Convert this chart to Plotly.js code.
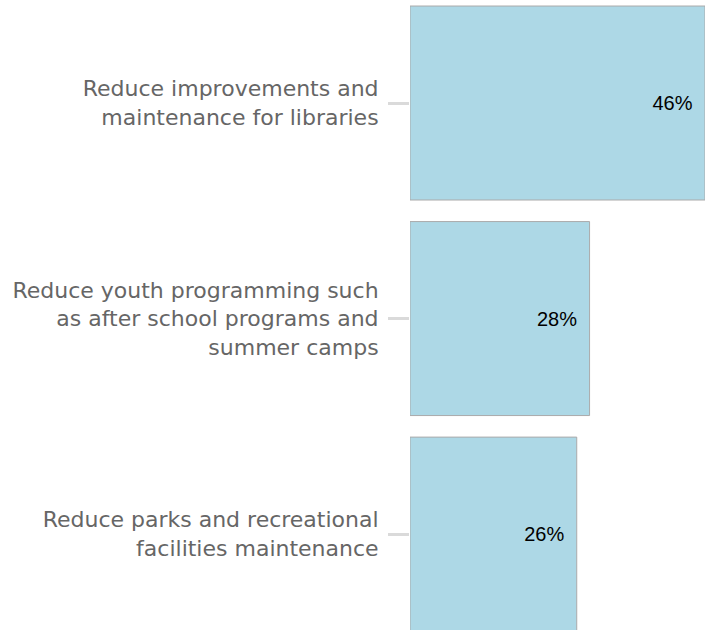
<!DOCTYPE html>
<html>
<head>
<meta charset="utf-8">
<script src="https://cdn.plot.ly/plotly-3.0.1.min.js"></script>
<style>html,body{margin:0;padding:0;background:#fff;}#chart{width:705px;height:630px;}</style>
</head>
<body>
<div id="chart"></div>
<script>
var categories = [
  "Reduce improvements and<br>maintenance for libraries",
  "Reduce youth programming such<br>as after school programs and<br>summer camps",
  "Reduce parks and recreational<br>facilities maintenance"
];
var values = [46, 28, 26];
var valueLabels = ["46%", "28%", "26%"];

var trace = {
  type: "bar",
  orientation: "h",
  y: categories,
  x: values,
  text: valueLabels,
  texttemplate: "%{text}\u00a0\u2009",
  textposition: "inside",
  insidetextanchor: "end",
  textangle: 0,
  textfont: {family: "Liberation Sans, Arial, sans-serif", size: 20, color: "#000"},
  marker: {color: "#ADD8E6", line: {color: "#AAAAAA", width: 1}},
  hoverinfo: "none"
};

var layout = {
  width: 705,
  height: 630,
  margin: {l: 410, r: 0, t: 0, b: 0, pad: 0},
  paper_bgcolor: "#fff",
  plot_bgcolor: "#fff",
  showlegend: false,
  bargap: 0.1,
  font: {family: "DejaVu Sans, sans-serif"},
  xaxis: {range: [0, 46], visible: false, showgrid: false, zeroline: false, fixedrange: true},
  yaxis: {
    type: "category",
    range: [2.445, -0.478],
    showgrid: false,
    zeroline: false,
    showline: false,
    ticks: "outside",
    ticklen: 21,
    tickwidth: 3,
    tickcolor: "#DADADA",
    ticklabelstandoff: 5,
    tickfont: {family: "DejaVu Sans, sans-serif", size: 22, color: "#666666"}
  }
};

Plotly.newPlot("chart", [trace], layout, {displayModeBar: false, staticPlot: true});
</script>
</body>
</html>
